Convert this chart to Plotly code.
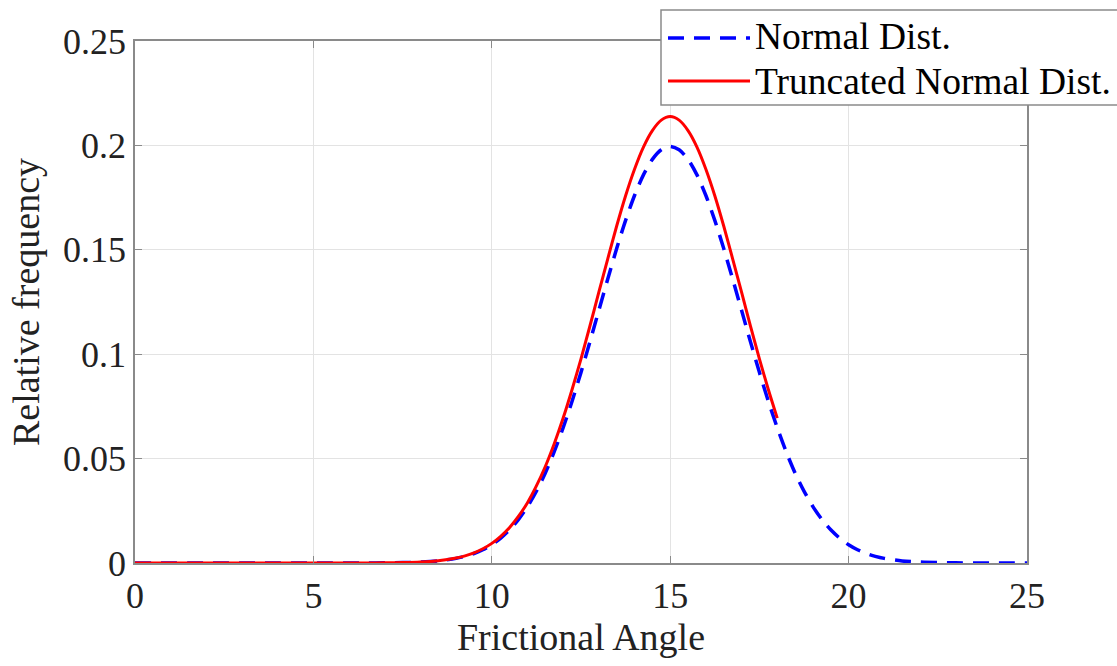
import plotly.graph_objects as go

# Frictional angle grid (degrees): coarse in the tails, finer around the peak
angle_normal = ([i * 0.5 for i in range(18)]            # 0 .. 8.5
                + [9 + i * 0.25 for i in range(49)]     # 9 .. 21
                + [21.5 + i * 0.5 for i in range(8)])   # 21.5 .. 25
angle_trunc = ([i * 0.5 for i in range(18)]             # 0 .. 8.5
               + [9 + i * 0.25 for i in range(37)])     # 9 .. 18 (upper truncation)

# Relative frequency, normal distribution
freq_normal = [
    0, 0, 0, 0, 0, 0, 0, 0, 0, 0, 0, 0, 0,                          # 0 .. 6
    0.00001, 0.00007, 0.00018, 0.00044, 0.00101,                    # 6.5 .. 8.5
    0.00222, 0.00320, 0.00455, 0.00636, 0.00876, 0.0119, 0.0159, 0.0209,   # 9 .. 10.75
    0.0270, 0.0344, 0.0431, 0.0533, 0.0648, 0.0775, 0.0913, 0.1059,        # 11 .. 12.75
    0.1210, 0.1360, 0.1506, 0.1641, 0.1760, 0.1859, 0.1933, 0.1979,        # 13 .. 14.75
    0.1995,                                                                # 15
    0.1979, 0.1933, 0.1859, 0.1760, 0.1641, 0.1506, 0.1360, 0.1210,        # 15.25 .. 17
    0.1059, 0.0913, 0.0775, 0.0648, 0.0533, 0.0431, 0.0344, 0.0270,        # 17.25 .. 19
    0.0209, 0.0159, 0.0119, 0.00876, 0.00636, 0.00455, 0.00320, 0.00222,   # 19.25 .. 21
    0.00101, 0.00044, 0.00018, 0.00007, 0.00002, 0, 0, 0,                  # 21.5 .. 25
]

# Relative frequency, truncated normal distribution
freq_trunc = [
    0, 0, 0, 0, 0, 0, 0, 0, 0, 0, 0, 0, 0,
    0.00001, 0.00007, 0.00019, 0.00047, 0.00108,
    0.00238, 0.00343, 0.00488, 0.00682, 0.00939, 0.0128, 0.0170, 0.0224,
    0.0289, 0.0369, 0.0462, 0.0571, 0.0694, 0.0831, 0.0978, 0.1135,
    0.1297, 0.1457, 0.1614, 0.1759, 0.1886, 0.1992, 0.2071, 0.2121,
    0.2138,
    0.2121, 0.2071, 0.1992, 0.1886, 0.1759, 0.1614, 0.1457, 0.1297,
    0.1135, 0.0978, 0.0831, 0.0694,
]

x_ticks = [0, 5, 10, 15, 20, 25]
x_ticktext = ["0", "5", "10", "15", "20", "25"]
y_ticks = [0, 0.05, 0.1, 0.15, 0.2, 0.25]
y_ticktext = ["0", "0.05", "0.1", "0.15", "0.2", "0.25"]

legend_names = ["Normal Dist.", "Truncated Normal Dist."]

FONT = "Liberation Serif, Times New Roman, serif"
BLUE = "#0000ff"
RED = "#ff0000"
FRAME = "#8a8a8a"
TEXT = "#222222"

fig = go.Figure()
fig.add_trace(go.Scatter(
    x=angle_normal, y=freq_normal, mode="lines", name=legend_names[0],
    line=dict(color=BLUE, width=3.5, dash="16px,10px", shape="spline", smoothing=0.8),
))
fig.add_trace(go.Scatter(
    x=angle_trunc, y=freq_trunc, mode="lines", name=legend_names[1],
    line=dict(color=RED, width=3, shape="spline", smoothing=0.8),
))

L, R, T, B = 135, 90, 41, 103
W, H = 1117, 666
pw, ph = W - L - R, H - T - B


def px_x(p):
    return (p - L) / pw


def px_y(p):
    return (H - B - p) / ph


# Legend box drawn on the paper, partly outside the plot frame
shapes = [
    dict(type="rect", xref="paper", yref="paper",
         x0=px_x(661), x1=px_x(1125), y0=px_y(105), y1=px_y(10),
         fillcolor="white", line=dict(color=FRAME, width=1.5), layer="above"),
    dict(type="line", xref="paper", yref="paper",
         x0=px_x(668), x1=px_x(750), y0=px_y(38), y1=px_y(38),
         line=dict(color=BLUE, width=3.5, dash="16px,10px"), layer="above"),
    dict(type="line", xref="paper", yref="paper",
         x0=px_x(668), x1=px_x(750), y0=px_y(81), y1=px_y(81),
         line=dict(color=RED, width=3), layer="above"),
]
annotations = [
    dict(xref="paper", yref="paper", x=px_x(753), y=px_y(37), text=legend_names[0],
         showarrow=False, xanchor="left", yanchor="middle",
         font=dict(family=FONT, size=37.5, color="black")),
    dict(xref="paper", yref="paper", x=px_x(753), y=px_y(81), text=legend_names[1],
         showarrow=False, xanchor="left", yanchor="middle",
         font=dict(family=FONT, size=37.5, color="black")),
]

axis_common = dict(
    showline=True, linecolor=FRAME, linewidth=1.5, mirror="ticks",
    ticks="inside", ticklen=7, tickwidth=1, tickcolor=FRAME,
    showgrid=True, gridcolor="#e3e3e3", gridwidth=1, zeroline=False,
    tickfont=dict(family=FONT, size=36, color=TEXT),
)

fig.update_layout(
    width=W, height=H,
    margin=dict(l=L, r=R, t=T, b=B),
    paper_bgcolor="white", plot_bgcolor="white",
    showlegend=False,
    font=dict(family=FONT, color=TEXT),
    xaxis=dict(
        range=[0, 25], tickvals=x_ticks, ticktext=x_ticktext,
        title=dict(text="Frictional Angle", font=dict(family=FONT, size=38, color=TEXT), standoff=2),
        **axis_common,
    ),
    yaxis=dict(
        range=[0, 0.25], tickvals=y_ticks, ticktext=y_ticktext,
        title=dict(text="Relative frequency", font=dict(family=FONT, size=38, color=TEXT), standoff=12),
        **axis_common,
    ),
    shapes=shapes,
    annotations=annotations,
)

fig.write_html("out.html")
